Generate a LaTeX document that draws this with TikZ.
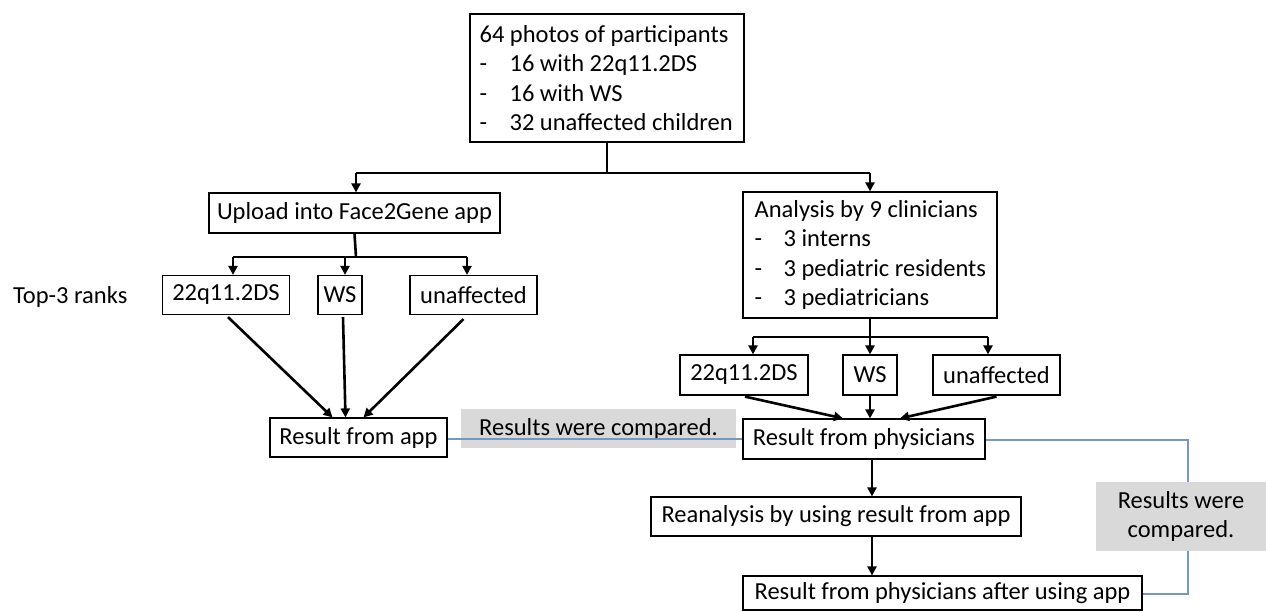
\documentclass[tikz,border=0pt]{standalone}
\usepackage{fontspec}
\setmainfont{Carlito}
\usetikzlibrary{arrows.meta,calc}
\definecolor{cmpblue}{RGB}{120,150,195}
\definecolor{graybox}{RGB}{217,217,217}
\begin{document}
\begin{tikzpicture}[x=1pt,y=-1pt,
  every node/.style={font=\fontsize{24.5}{29.3}\selectfont},
  box/.style={draw, line width=1.2pt, inner sep=0pt, align=center},
  frame/.style={draw, line width=1.2pt, inner sep=0pt},
  listtext/.style={inner sep=0pt, align=left, anchor=west},
  graynote/.style={fill=graybox, inner sep=0pt, align=center},
  ln/.style={line width=2.6pt},
  arr/.style={line width=2.6pt, -{Triangle[length=9pt,width=9pt]}},
  cmp/.style={line width=1.3pt, draw=cmpblue}]
\useasboundingbox (0,0) rectangle (1266,611);

% boxes
\node[frame, minimum width=274pt, minimum height=128pt] (top) at (607,78) {};
\node[listtext] (toptext) at ($(top.west)+(10,0)$)
  {64 photos of participants\\
   \makebox[30pt][l]{-}16 with 22q11.2DS\\
   \makebox[30pt][l]{-}16 with WS\\
   \makebox[30pt][l]{-}32 unaffected children};
\node[box, minimum width=291pt, minimum height=40pt] (upload) at (354.5,213) {Upload into Face2Gene app};
\node[frame, minimum width=254pt, minimum height=126pt] (ana) at (870,255) {};
\node[listtext] (anatext) at ($(ana.west)+(12,0)$)
  {Analysis by 9 clinicians\\
   \makebox[29pt][l]{-}3 interns\\
   \makebox[29pt][l]{-}3 pediatric residents\\
   \makebox[29pt][l]{-}3 pediatricians};

\node[anchor=west, inner sep=0pt] (ranks) at (13,297) {Top-3 ranks};

\node[box, minimum width=127pt, minimum height=39pt] (lq) at (226,295) {22q11.2DS};
\node[box, minimum width=44pt, minimum height=39pt] (lws) at (340,295) {WS};
\node[box, minimum width=127pt, minimum height=39pt] (lun) at (473.5,295) {unaffected};

\node[box, minimum width=128pt, minimum height=40pt] (rq) at (744,375) {22q11.2DS};
\node[box, minimum width=54pt, minimum height=40pt] (rws) at (870,375) {WS};
\node[box, minimum width=127pt, minimum height=40pt] (run) at (996.5,375) {unaffected};

\node[graynote, minimum width=275pt, minimum height=39pt] (g1) at (598.5,428.5) {Results were compared.};
\node[box, minimum width=177pt, minimum height=39pt] (app) at (358.5,437.5) {Result from app};
\node[box, minimum width=242pt, minimum height=40pt] (phy) at (864,439) {Result from physicians};
\node[box, minimum width=370pt, minimum height=39pt] (rea) at (836,516.5) {Reanalysis by using result from app};
\node[box, minimum width=399pt, minimum height=34pt] (last) at (942.5,593) {Result from physicians after using app};

% comparison lines
\coordinate (c1) at (1188,440);
\coordinate (c2) at (1188,594);
\draw[cmp] (app.east |- 0,439) -- (phy.west |- 0,439);
\draw[cmp] (phy.east |- c1) -- (c1) -- (c2) -- (last.east |- c2);
\node[graynote, minimum width=170pt, minimum height=69pt] (g2) at (1181,516.5) {Results were\\compared.};

% top split
\coordinate (tb) at (607,173);
\coordinate (tl) at (356,173);
\coordinate (tr) at (870,173);
\draw[ln] (top.south) -- (tb);
\draw[ln] (tl) -- (tr);
\draw[arr] (tl) -- (tl |- upload.north);
\draw[arr] (tr) -- (tr |- ana.north);

% left split
\coordinate (lb) at (356,257);
\coordinate (lb1) at (233,257);
\coordinate (lb2) at (345,257);
\coordinate (lb3) at (467,257);
\draw[ln] (upload.south) -- (lb);
\draw[ln] (lb1) -- (lb3);
\draw[arr] (lb1) -- (lb1 |- lq.north);
\draw[arr] (lb2) -- (lb2 |- lws.north);
\draw[arr] (lb3) -- (lb3 |- lun.north);

% left merge
\draw[arr] ($(lq.south)+(2,2)$) -- ($(app.north)+(-26,0)$);
\draw[arr] ($(lws.south)+(3,2)$) -- ($(app.north)+(-13,0)$);
\draw[arr] ($(lun.south)+(-10,4)$) -- ($(app.north)+(5,0)$);

% right split
\coordinate (rb) at (870,337);
\coordinate (rb1) at (753,337);
\coordinate (rb3) at (988,337);
\draw[ln] (ana.south) -- (rb);
\draw[ln] (rb1) -- (rb3);
\draw[arr] (rb1) -- (rb1 |- rq.north);
\draw[arr] (rb) -- (rb |- rws.north);
\draw[arr] (rb3) -- (rb3 |- run.north);

% right merge
\draw[arr] ($(rq.south)+(1,1)$) -- ($(phy.north)+(-21,0)$);
\draw[arr] (rws.south) -- (rws.south |- phy.north);
\draw[arr] ($(run.south)+(0,1)$) -- ($(phy.north)+(36,0)$);

% lower chain
\coordinate (d1) at (872,0);
\draw[arr] (d1 |- phy.south) -- (d1 |- rea.north);
\draw[arr] (d1 |- rea.south) -- (d1 |- last.north);
\end{tikzpicture}
\end{document}
